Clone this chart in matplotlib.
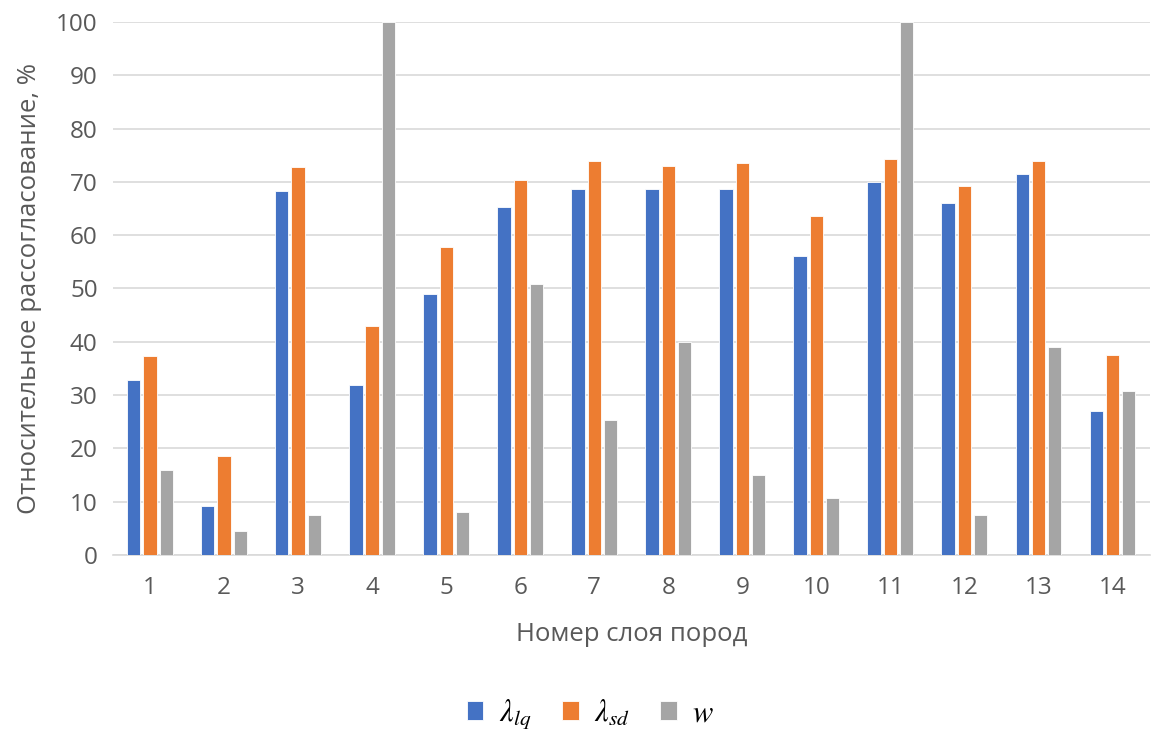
import matplotlib.pyplot as plt
import numpy as np

plt.rcParams['font.family'] = ['Open Sans', 'DejaVu Sans']
plt.rcParams['mathtext.fontset'] = 'stix'

layers = [str(i) for i in range(1, 15)]
lambda_lq = [32.8, 9.2, 68.2, 31.8, 48.9, 65.2, 68.7, 68.7, 68.7, 56.0, 69.9, 66.1, 71.5, 27.0]
lambda_sd = [37.3, 18.5, 72.7, 42.9, 57.7, 70.3, 74.0, 73.0, 73.6, 63.5, 74.3, 69.2, 74.0, 37.6]
w = [15.9, 4.5, 7.5, 100.0, 8.1, 50.9, 25.3, 39.9, 15.0, 10.7, 100.0, 7.5, 39.0, 30.7]

series = [
    (lambda_lq, r'$\lambda_{lq}$', '#4472C4'),
    (lambda_sd, r'$\lambda_{sd}$', '#ED7D31'),
    (w, r'$w$', '#A5A5A5'),
]

fig = plt.figure(figsize=(11.53, 7.33), dpi=100)
ax = fig.add_axes([0.098, 0.243, 0.899, 0.727])

x = np.arange(len(layers))
width = 0.18
for i, (vals, label, color) in enumerate(series):
    ax.bar(x + (i - 1) * (width + 0.04), vals, width, color=color,
           edgecolor='white', linewidth=0.6, label=label, zorder=3)

ax.set_xlim(-0.5, len(layers) - 0.5)
ax.set_ylim(0, 100)
ax.set_yticks(range(0, 101, 10))
ax.set_xticks(x)
ax.set_xticklabels(layers)
ax.grid(axis='y', color='#D9D9D9', linewidth=1.2, zorder=0)
for s in ['top', 'right', 'left']:
    ax.spines[s].set_visible(False)
ax.spines['bottom'].set_color('#D9D9D9')
ax.spines['bottom'].set_linewidth(1.2)
ax.tick_params(axis='both', length=0, labelsize=17.5, colors='#595959')
ax.tick_params(axis='x', pad=15)
ax.tick_params(axis='y', pad=11)

ax.set_xlabel('Номер слоя пород', fontsize=18.5, color='#595959', labelpad=16)
ax.set_ylabel('Относительное рассогласование, %', fontsize=18.5, color='#595959', labelpad=10)

fig.legend(loc='center', bbox_to_anchor=(0.512, 0.025), ncol=3, frameon=False,
           fontsize=22, handlelength=0.55, handleheight=0.55, columnspacing=1.0,
           handletextpad=0.5)

fig.savefig('out.png', dpi=100)
plt.close(fig)
